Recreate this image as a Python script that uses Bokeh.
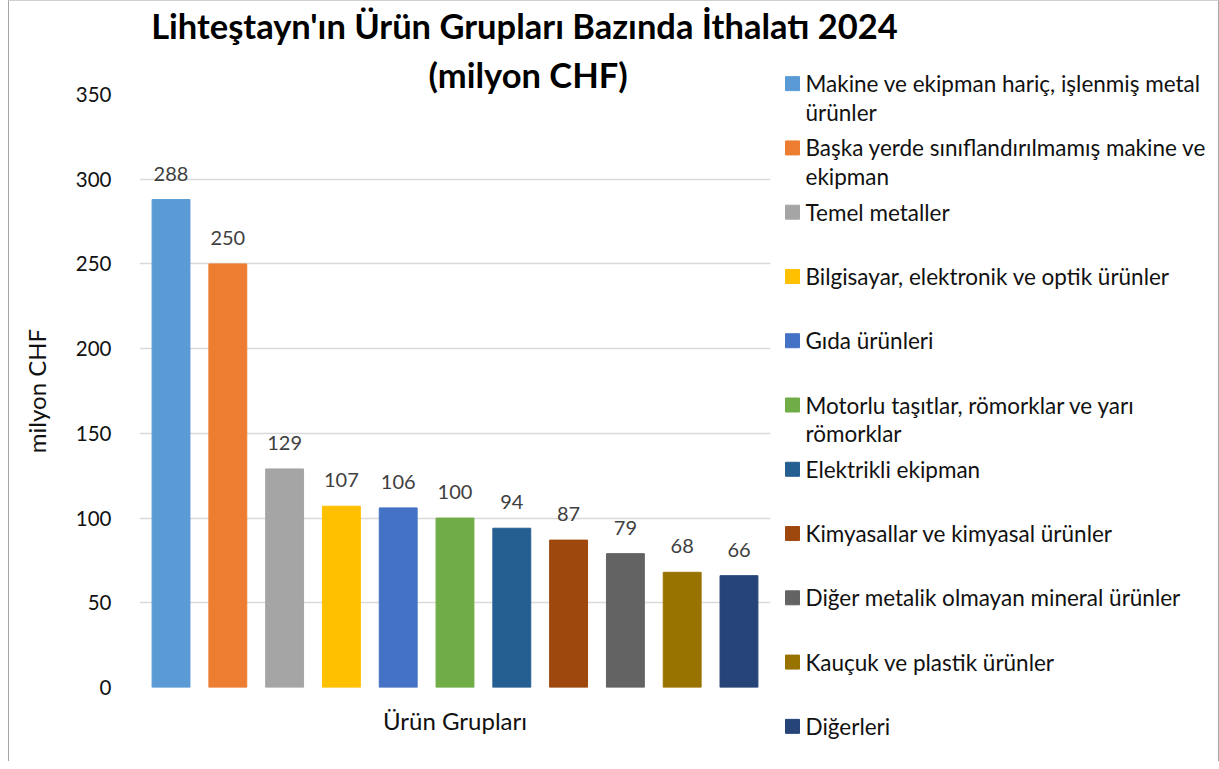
from bokeh.plotting import figure
from bokeh.layouts import row, column
from bokeh.models import ColumnDataSource, Title, FactorRange, Range1d
from bokeh.core.properties import value
from bokeh.embed import file_html
from bokeh.resources import INLINE

categories = [
    "Makine ve ekipman hariç, işlenmiş metal ürünler",
    "Başka yerde sınıflandırılmamış makine ve ekipman",
    "Temel metaller",
    "Bilgisayar, elektronik ve optik ürünler",
    "Gıda ürünleri",
    "Motorlu taşıtlar, römorklar ve yarı römorklar",
    "Elektrikli ekipman",
    "Kimyasallar ve kimyasal ürünler",
    "Diğer metalik olmayan mineral ürünler",
    "Kauçuk ve plastik ürünler",
    "Diğerleri",
]
# legend texts wrapped as in the reference
legend_labels = [
    "Makine ve ekipman hariç, işlenmiş metal\nürünler",
    "Başka yerde sınıflandırılmamış makine ve\nekipman",
    "Temel metaller",
    "Bilgisayar, elektronik ve optik ürünler",
    "Gıda ürünleri",
    "Motorlu taşıtlar, römorklar ve yarı\nrömorklar",
    "Elektrikli ekipman",
    "Kimyasallar ve kimyasal ürünler",
    "Diğer metalik olmayan mineral ürünler",
    "Kauçuk ve plastik ürünler",
    "Diğerleri",
]
values = [288, 250, 129, 107, 106, 100, 94, 87, 79, 68, 66]
colors = ["#5B9BD5", "#ED7D31", "#A5A5A5", "#FFC000", "#4472C4", "#70AD47",
          "#255E91", "#9E480E", "#636363", "#997300", "#264478"]
y_ticks = [0, 50, 100, 150, 200, 250, 300, 350]

title_line1 = "Lihteştayn'ın Ürün Grupları Bazında İthalatı 2024"
title_line2 = "(milyon CHF)"
x_title = "Ürün Grupları"
y_title = "milyon CHF"

FONT = "Lato"
TXT = "#111111"

# ---------------- title band ----------------
tf = figure(width=1209, height=50, x_range=Range1d(0, 1209), y_range=Range1d(0, 50),
            x_axis_location=None, y_axis_location=None, min_border=0,
            frame_align=False, output_backend="svg", toolbar_location=None)
tf.outline_line_color = None
tf.grid.visible = False
tf.text(x=[515], y=[26], text=[title_line1], text_align="center",
        text_baseline="alphabetic", text_font=value(FONT), text_font_style="bold",
        text_font_size="34.5px", text_color="#000000")

# ---------------- main chart ----------------
src = ColumnDataSource(dict(cat=categories, val=values, color=colors,
                            lbl=[str(v) for v in values]))

p = figure(width=766, height=710, x_range=FactorRange(*categories, range_padding=0.01),
           y_range=Range1d(0, 350), output_backend="svg", toolbar_location=None,
           min_border_left=130, min_border_right=5, min_border_top=43,
           min_border_bottom=74, frame_align=False)
p.outline_line_color = None

p.vbar(x="cat", top="val", width=0.667, color="color", source=src)
p.text(x="cat", y="val", text="lbl", source=src, text_align="center",
       text_baseline="alphabetic", y_offset=-26, text_font=value(FONT),
       text_font_size="20px", text_color="#404040")

p.ygrid.grid_line_color = "#d9d9d9"
p.ygrid.grid_line_width = 1.5
p.xgrid.grid_line_color = None

p.yaxis.ticker = y_ticks
p.yaxis.axis_line_color = None
p.yaxis.major_tick_line_color = None
p.yaxis.minor_tick_line_color = None
p.yaxis.major_label_standoff = 22
p.yaxis.major_label_text_font = FONT
p.yaxis.major_label_text_font_size = "20.5px"
p.yaxis.major_label_text_color = TXT
p.yaxis.axis_label = y_title
p.yaxis.axis_label_text_font = FONT
p.yaxis.axis_label_text_font_size = "24px"
p.yaxis.axis_label_text_font_style = "normal"
p.yaxis.axis_label_text_color = TXT
p.yaxis.axis_label_standoff = 22

p.xaxis.visible = False
p.add_layout(Title(text=x_title, align="center", text_font=FONT,
                   text_font_size="24px", text_font_style="normal",
                   text_color=TXT, standoff=32), "below")
p.add_layout(Title(text=title_line2, align="left", offset=289, standoff=0,
                   text_font=FONT, text_font_style="bold", text_font_size="34.5px",
                   text_color="#000000"), "above")

# ---------------- legend panel ----------------
first_lines = [s.split("\n")[0] for s in legend_labels]
wrapped = [(c, s.split("\n")[1]) for c, s in zip(categories, legend_labels) if "\n" in s]
lsrc = ColumnDataSource(dict(cat=categories, color=colors, txt=first_lines))
l2src = ColumnDataSource(dict(cat=[w[0] for w in wrapped], txt=[w[1] for w in wrapped]))

lg = figure(width=443, height=710, x_range=Range1d(-17, 426),
            y_range=FactorRange(*reversed(categories), range_padding=0),
            x_axis_location=None, y_axis_location=None, min_border_left=0,
            min_border_right=0, min_border_top=0, min_border_bottom=3,
            frame_align=False, output_backend="svg", toolbar_location=None)
lg.outline_line_color = None
lg.grid.visible = False
lg.scatter(x=0, y="cat", marker="square", size=14, fill_color="color",
           line_color="color", source=lsrc)
lg.text(x=13, y="cat", text="txt", source=lsrc, text_align="left",
        text_baseline="middle", text_font=value(FONT), text_font_size="22.5px",
        text_color=TXT)
lg.text(x=13, y="cat", text="txt", source=l2src, text_align="left",
        text_baseline="middle", y_offset=28.7, text_font=value(FONT),
        text_font_size="22.5px", text_color=TXT)

layout = column(tf, row(p, lg, spacing=0), spacing=0)
layout.styles = {"margin-left": "8px", "border-left": "1px solid #a6a6a6",
                 "border-right": "1px solid #a6a6a6", "border-top": "1px solid #d0d0d0"}

open("out.html", "w").write(file_html(layout, INLINE))
